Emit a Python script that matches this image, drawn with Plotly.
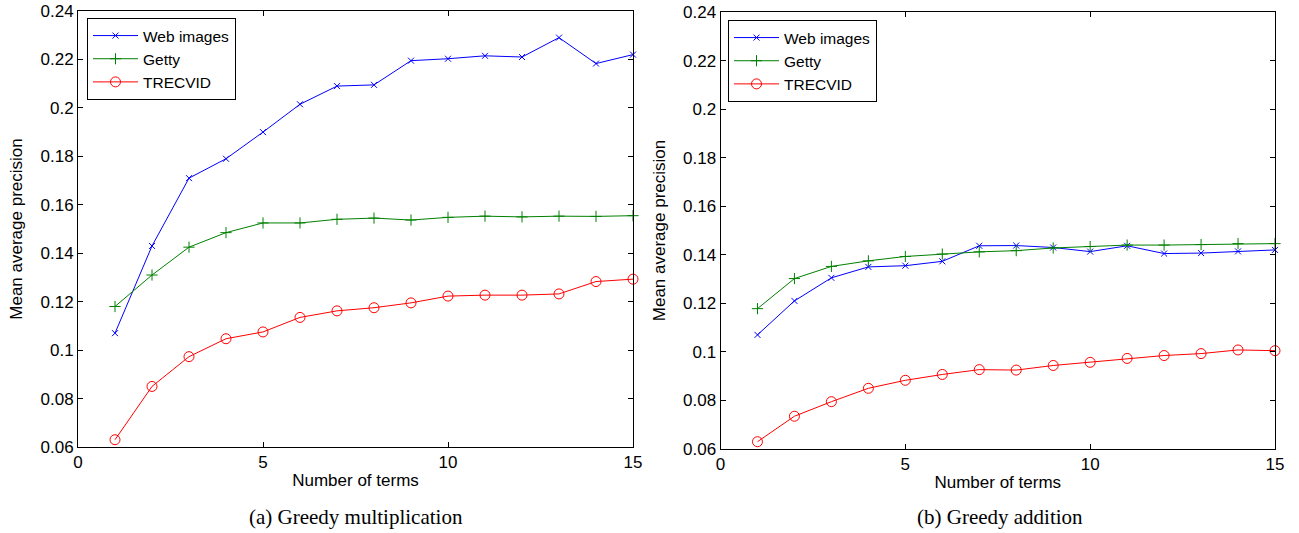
import plotly.graph_objects as go

terms = list(range(1, 16))

mult_web = [0.107, 0.143, 0.171, 0.179, 0.190, 0.2015, 0.209, 0.2095, 0.2195, 0.2203, 0.2215, 0.221, 0.229, 0.2183, 0.222]
mult_getty = [0.118, 0.131, 0.1425, 0.1485, 0.1525, 0.1525, 0.154, 0.1545, 0.1537, 0.1548, 0.1553, 0.155, 0.1553, 0.1552, 0.1555]
mult_trecvid = [0.063, 0.085, 0.0973, 0.1047, 0.1075, 0.1135, 0.1162, 0.1175, 0.1195, 0.1223, 0.1227, 0.1227, 0.1232, 0.1283, 0.1293]

add_web = [0.107, 0.121, 0.1305, 0.135, 0.1355, 0.1373, 0.1437, 0.1438, 0.143, 0.1413, 0.1437, 0.1405, 0.1407, 0.1414, 0.142]
add_getty = [0.1178, 0.1302, 0.1352, 0.1375, 0.1393, 0.1403, 0.1412, 0.1417, 0.1428, 0.1434, 0.144, 0.144, 0.1442, 0.1446, 0.1446]
add_trecvid = [0.063, 0.0735, 0.0795, 0.085, 0.0883, 0.0907, 0.0927, 0.0925, 0.0944, 0.0957, 0.0973, 0.0985, 0.0993, 0.1008, 0.1005]

series_names = ["Web images", "Getty", "TRECVID"]
x_ticks = [0, 5, 10, 15]
y_ticks = [0.06, 0.08, 0.1, 0.12, 0.14, 0.16, 0.18, 0.2, 0.22, 0.24]
y_ticktext = ["0.06", "0.08", "0.1", "0.12", "0.14", "0.16", "0.18", "0.2", "0.22", "0.24"]
captions = ["(a) Greedy multiplication", "(b) Greedy addition"]

W, H = 1299, 533
colors = ["#0000ff", "#008000", "#ff0000"]
symbols = ["x-thin-open", "cross-thin-open", "circle-open"]
sizes = [6, 8, 10]

fig = go.Figure()

panels = [
    ((mult_web, mult_getty, mult_trecvid), "x", "y", "legend"),
    ((add_web, add_getty, add_trecvid), "x2", "y2", "legend2"),
]
for data3, xa, ya, lg in panels:
    for i, vals in enumerate(data3):
        fig.add_trace(go.Scatter(
            x=terms, y=vals, name=series_names[i], mode="lines+markers",
            xaxis=xa, yaxis=ya, legend=lg,
            line=dict(color=colors[i], width=1),
            marker=dict(symbol=symbols[i], size=sizes[i], color=colors[i],
                        line=dict(color=colors[i], width=1)),
            cliponaxis=False,
        ))

SANS = "Liberation Sans, Arial, sans-serif"
font_ax = dict(family=SANS, size=17, color="black")
font_title = dict(family=SANS, size=17, color="black")

def xax(domain, anchor):
    return dict(domain=domain, anchor=anchor, range=[0, 15], tickvals=x_ticks,
                ticks="inside", ticklen=5, tickcolor="black", mirror="allticks",
                showline=True, linecolor="black", linewidth=1, showgrid=False,
                zeroline=False, tickfont=font_ax, automargin=False,
                title=dict(text="Number of terms", font=font_title, standoff=2))

def yax(domain, anchor):
    return dict(domain=domain, anchor=anchor, range=[0.06, 0.24], tickvals=y_ticks,
                ticktext=y_ticktext,
                ticks="inside", ticklen=5, tickcolor="black", mirror="allticks",
                showline=True, linecolor="black", linewidth=1, showgrid=False,
                zeroline=False, tickfont=font_ax, automargin=False,
                title=dict(text="Mean average precision", font=font_title, standoff=13))

def leg(x0, y0):
    return dict(x=x0 / W, y=1 - y0 / H, xanchor="left", yanchor="top",
                bordercolor="black", borderwidth=1, bgcolor="white",
                font=dict(family=SANS, size=15.5, color="black"),
                tracegroupgap=0, itemwidth=45)

fig.update_layout(
    width=W, height=H,
    margin=dict(l=0, r=0, t=0, b=0),
    paper_bgcolor="white", plot_bgcolor="white",
    xaxis=xax([78 / W, 633 / W], "y"),
    yaxis=yax([1 - 447 / H, 1 - 11 / H], "x"),
    xaxis2=xax([720.5 / W, 1275 / W], "y2"),
    yaxis2=yax([1 - 449 / H, 1 - 12 / H], "x2"),
    legend=leg(87, 18),
    legend2=leg(728, 20),
    showlegend=True,
)

for cx, text in [(356, captions[0]), (1000, captions[1])]:
    fig.add_annotation(x=cx / W, y=1 - 517 / H, xref="paper", yref="paper",
                       text=text, showarrow=False, xanchor="center", yanchor="middle",
                       font=dict(family="Liberation Serif, Times New Roman, serif", size=21, color="black"))

fig.write_html("out.html", config={"displayModeBar": False},
               post_script="document.body.style.margin='0';document.body.style.overflow='hidden';")
